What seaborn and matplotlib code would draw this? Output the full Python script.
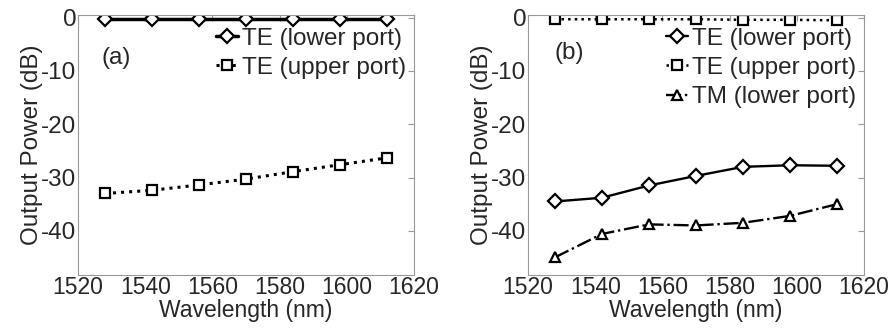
import matplotlib
matplotlib.use("Agg")
import matplotlib.pyplot as plt
import seaborn as sns
import pandas as pd

wavelength = [1528, 1542, 1556, 1570, 1584, 1598, 1612]
a_te_lower = [-0.3, -0.3, -0.3, -0.3, -0.3, -0.3, -0.3]
a_te_upper = [-33.0, -32.4, -31.4, -30.3, -28.9, -27.6, -26.3]
b_te_lower = [-34.5, -33.8, -31.5, -29.7, -28.0, -27.7, -27.8]
b_te_upper = [-0.3, -0.3, -0.3, -0.3, -0.4, -0.4, -0.5]
b_tm_lower = [-45.0, -40.6, -38.8, -39.0, -38.5, -37.2, -35.0]
xticks = [1520, 1540, 1560, 1580, 1600, 1620]
yticks = [0, -10, -20, -30, -40]

sns.set_style("white")
plt.rcParams['font.family'] = ['Liberation Sans', 'DejaVu Sans']
FS = 17.5
FSX = 16.5

fig = plt.figure(figsize=(8.95, 3.28), dpi=100)
W, H = 895, 328
ax1 = fig.add_axes([78 / W, (H - 275) / H, 336 / W, 260 / H])
ax2 = fig.add_axes([528 / W, (H - 275) / H, 336 / W, 260 / H])

mk = dict(markersize=7, markerfacecolor='white', markeredgecolor='black', markeredgewidth=1.6)

def draw(ax, y, label, marker, ls, lw):
    df = pd.DataFrame({'x': wavelength, 'y': y})
    sns.lineplot(data=df, x='x', y='y', ax=ax, color='black', marker=marker,
                 linestyle=ls, linewidth=lw, label=label, **mk)

draw(ax1, a_te_lower, 'TE (lower port)', 'D', '-', 2.5)
draw(ax1, a_te_upper, 'TE (upper port)', 's', ':', 2.2)
draw(ax2, b_te_lower, 'TE (lower port)', 'D', '-', 1.7)
draw(ax2, b_te_upper, 'TE (upper port)', 's', ':', 1.8)
draw(ax2, b_tm_lower, 'TM (lower port)', '^', '-.', 1.7)

for ax, tag, tx, ty in [(ax1, '(a)', 0.07, 0.835), (ax2, '(b)', 0.08, 0.855)]:
    ax.set_xlim(1520, 1620)
    ax.set_ylim(-48.3, 0.5)
    ax.set_xticks(xticks)
    ax.set_yticks(yticks)
    ax.set_yticklabels([str(t) for t in yticks])
    ax.set_xlabel('Wavelength (nm)', fontsize=FSX, labelpad=0)
    ax.set_ylabel('Output Power (dB)', fontsize=FS, labelpad=-1)
    ax.tick_params(axis='x', labelsize=FSX, direction='in', length=4,
                   color='#999999', pad=1, top=True)
    ax.tick_params(axis='y', labelsize=FS, direction='in', length=4,
                   color='#999999', pad=1, right=True)
    for s in ax.spines.values():
        s.set_color('#999999')
        s.set_linewidth(0.8)
    ax.text(tx, ty, tag, transform=ax.transAxes, fontsize=FS, ha='left', va='center')
    ax.legend(loc='upper right', bbox_to_anchor=(0.99, 0.97), frameon=False,
              fontsize=FS, handlelength=0.9, handletextpad=0.15, labelspacing=0.3,
              borderpad=0.2, borderaxespad=0.0)

fig.savefig('out.png', dpi=100)
